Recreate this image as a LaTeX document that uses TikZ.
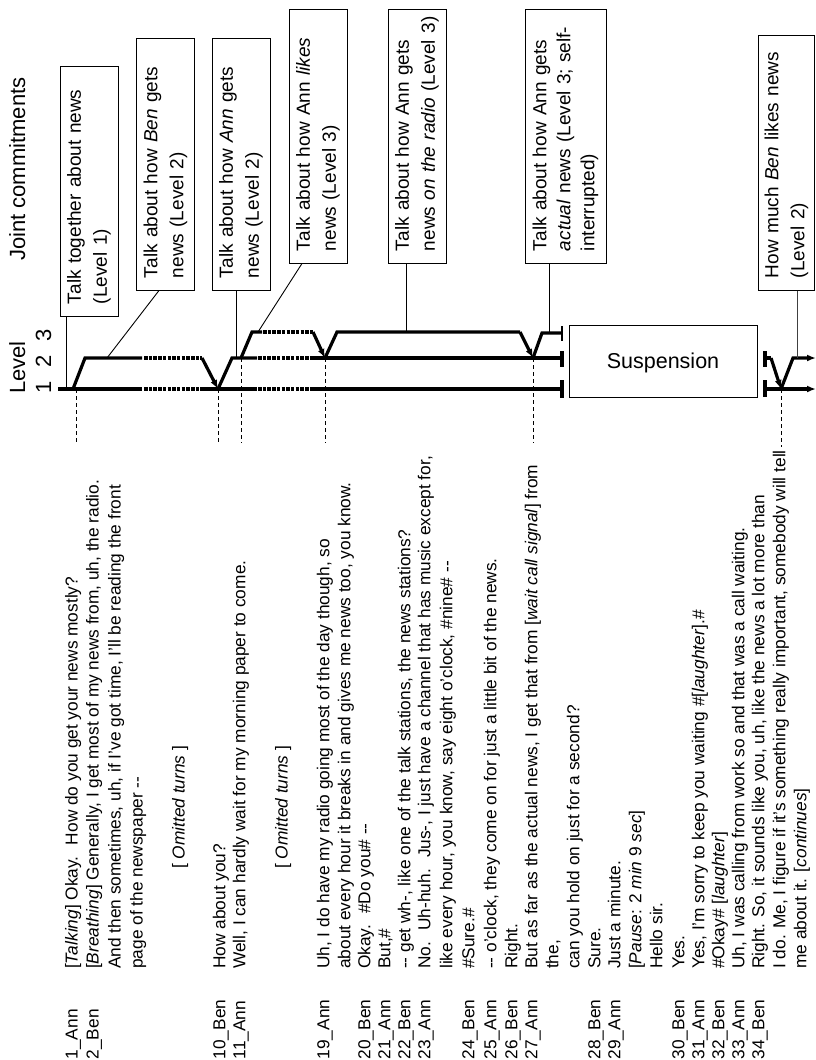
\documentclass[tikz,border=0pt]{standalone}
\usepackage{fontspec}
\setmainfont{Liberation Sans}
\usetikzlibrary{arrows.meta,calc}
\newcommand\trow[4]{%
  \node[tl] (#1s) at (#2,1059.5) {#3};
  \node[tl] (#1t) at (#2,969) {#4};}
\newcommand\tcont[3]{%
  \node[tl] (#1) at (#2,969) {#3};}
\begin{document}
\begin{tikzpicture}[x=1pt,y=-1pt,
  lvl/.style={line width=3.2pt},
  lvlthick/.style={line width=3.8pt},
  lvldot/.style={line width=3.2pt, dash pattern=on 3.5pt off 1.2pt},
  conn/.style={line width=0.9pt},
  guide/.style={line width=1pt, dash pattern=on 4pt off 3pt},
  tip/.style={-{Latex[length=9pt,width=7pt]}},
  cbox/.style={draw, line width=1pt, rotate=90, inner xsep=12pt, inner ysep=0pt,
    align=left, minimum height=58pt, font=\fontsize{19}{26}\selectfont},
  tl/.style={rotate=90, anchor=base west, inner sep=0pt, font=\fontsize{17.3}{20}\selectfont},
  head/.style={rotate=90, anchor=base west, inner sep=0pt, font=\fontsize{22}{26}\selectfont}
]
\useasboundingbox (0,0) rectangle (816,1060);

% headings
\node[head] (jc) at (25,261) {Joint commitments};
\node[head] (lev) at (25,394) {Level};
\node[head, anchor=base] (d1) at (51,387) {1};
\node[head, anchor=base] (d2) at (51,361) {2};
\node[head, anchor=base] (d3) at (51,335) {3};

% commitment boxes
\node[cbox, minimum width=250pt, text width=226pt] (b1) at (89,191) {\mbox{Talk together about news}\\\mbox{(Level 1)}};
\node[cbox, minimum width=252pt, text width=228pt] (b2) at (165.5,164) {\mbox{Talk about how \textit{Ben} gets}\\\mbox{news (Level 2)}};
\node[cbox, minimum width=252pt, text width=228pt] (b3) at (241,164) {\mbox{Talk about how \textit{Ann} gets}\\\mbox{news (Level 2)}};
\node[cbox, minimum width=254pt, text width=230pt] (b4) at (318,136) {\mbox{Talk about how Ann \textit{likes}}\\\mbox{news (Level 3)}};
\node[cbox, minimum width=254pt, text width=230pt] (b5) at (417,136) {\mbox{Talk about how Ann gets}\\\mbox{news \textit{on the radio} (Level 3)}};
\node[cbox, minimum width=254pt, text width=230pt, minimum height=81pt, font=\fontsize{19}{24}\selectfont] (b6) at (565.5,136) {\mbox{Talk about how Ann gets}\\\mbox{\textit{actual} news (Level 3; self-}\\\mbox{interrupted)}};
\node[cbox, minimum width=255pt, text width=231pt, minimum height=56pt] (b7) at (786.5,162.5) {\mbox{How much \textit{Ben} likes news}\\\mbox{(Level 2)}};

\node[draw, line width=1pt, minimum width=188pt, minimum height=72pt, text depth=0pt,
  font=\fontsize{21.5}{25}\selectfont] (susp) at (663,361) {Suspension};

% level 1
\draw[lvl] (58,389) -- (142,389);
\draw[lvldot] (144,389) -- (202,389);
\draw[lvl] (202,389) -- (257,389);
\draw[lvldot] (258,389) -- (313,389);
\draw[lvlthick] (313,389) -- (560,389);
% level 2
\draw[lvl] (73,389) -- (85,358) -- (142,358);
\draw[lvldot] (144,358) -- (202,358);
\draw[lvl,tip] (202,358) -- (218,389);
\draw[lvl] (218,389) -- (232,358) -- (257,358);
\draw[lvldot] (258,358) -- (313,358);
\draw[lvl] (313,358) -- (560,358);
% level 3
\draw[lvl] (241,358) -- (252,332) -- (262,332);
\draw[lvldot] (263,332) -- (313,332);
\draw[lvl,tip] (313,332) -- (325,358);
\draw[lvl] (325,358) -- (337,332) -- (520,332);
\draw[lvl,tip] (520,332) -- (533,358);
\draw[lvl] (533,358) -- (542,333) -- (561,333);
% end bars
\draw[line width=1.5pt] (562,326) -- (562,341);
\draw[line width=4pt] (562,351) -- (562,367);
\draw[line width=4pt] (562,380) -- (562,398);
% after suspension
\draw[line width=4pt] (765,351) -- (765,367);
\draw[line width=4pt] (765,380) -- (765,397);
\draw[lvl] (765,358) -- (771,358);
\draw[lvl,tip] (771,358) -- (781,389);
\draw[lvl,tip] (781,389) -- (793,358) -- (816,358);
\draw[lvlthick,tip] (765,389) -- (816,389);

% connector anchor points on the level lines
\coordinate (c1) at (66,389);
\coordinate (c2) at (107,358);
\coordinate (c3) at (236,358);
\coordinate (c4) at (258,332);
\coordinate (c5) at (406,332);
\coordinate (c6) at (549,333);
\coordinate (c7) at (797,358);
\draw[conn] (b1.west -| c1) -- (c1);
\draw[conn] ($(b2.west)+(-6.5,0)$) -- (c2);
\draw[conn] (b3.west -| c3) -- (c3);
\draw[conn] ($(b4.west)+(-16,0)$) -- (c4);
\draw[conn] (b5.west -| c5) -- (c5);
\draw[conn] (b6.west -| c6) -- (c6);
\draw[conn, black!75] (b7.west -| c7) -- (c7);

% guides
\coordinate (g1a) at (76,389);  \coordinate (g1b) at (76,443);
\coordinate (g2a) at (218,389); \coordinate (g2b) at (218,443);
\coordinate (g3a) at (241,358); \coordinate (g3b) at (241,443);
\coordinate (g4a) at (325,358); \coordinate (g4b) at (325,443);
\coordinate (g5a) at (533,358); \coordinate (g5b) at (533,443);
\coordinate (g6a) at (781,389); \coordinate (g6b) at (781,447);
\foreach \g in {1,...,6} {\draw[guide] (g\g a) -- (g\g b);}

% transcript
\trow{r1}{77.5}{1\_Ann}{[\textit{Talking}] Okay.~ How do you get your news mostly?}
\trow{r2}{98.5}{2\_Ben}{[\textit{Breathing}] Generally, I get most of my news from, uh, the radio.}
\tcont{r2b}{120.5}{And then sometimes, uh, if I've got time, I'll be reading the front}
\tcont{r2c}{142.5}{page of the newspaper -{}-}
\node[tl] (om1) at (184.6,869) {[ \textit{Omitted turns} ]};
\trow{r10}{225.4}{10\_Ben}{How about you?}
\trow{r11}{245.4}{11\_Ann}{Well, I can hardly wait for my morning paper to come.}
\node[tl] (om2) at (287.6,869) {[ \textit{Omitted turns} ]};
\trow{r19}{329.4}{19\_Ann}{Uh, I do have my radio going most of the day though, so}
\tcont{r19b}{350.4}{about every hour it breaks in and gives me news too, you know.}
\trow{r20}{370.4}{20\_Ben}{Okay.~ \#Do you\# -{}-}
\trow{r21}{390.4}{21\_Ann}{But,\#}
\trow{r22}{410.4}{22\_Ben}{-{}- get wh-, like one of the talk stations, the news stations?}
\trow{r23}{430.4}{23\_Ann}{No.~ Uh-huh.~ Jus-, I just have a channel that has music except for,}
\tcont{r23b}{452.4}{like every hour, you know, say eight o'clock, \#nine\# -{}-}
\trow{r24}{474.4}{24\_Ben}{\#Sure.\#}
\trow{r25}{496.4}{25\_Ann}{-{}- o'clock, they come on for just a little bit of the news.}
\trow{r26}{517.4}{26\_Ben}{Right.}
\trow{r27}{537.4}{27\_Ann}{But as far as the actual news, I get that from [\textit{wait call signal}] from}
\tcont{r27b}{558.4}{the,}
\tcont{r27c}{579.4}{can you hold on just for a second?}
\trow{r28}{600.4}{28\_Ben}{Sure.}
\trow{r29}{620.4}{29\_Ann}{Just a minute.}
\tcont{r29b}{641.4}{[\textit{Pause}: 2 \textit{min} 9 \textit{sec}]}
\tcont{r29c}{662.4}{Hello sir.}
\trow{r30}{684.4}{30\_Ben}{Yes.}
\trow{r31}{704.4}{31\_Ann}{Yes, I'm sorry to keep you waiting \#[\textit{laughter}].\#}
\trow{r32}{724.4}{32\_Ben}{\#Okay\# [\textit{laughter}]}
\trow{r33}{744.4}{33\_Ann}{Uh, I was calling from work so and that was a call waiting.}
\trow{r34}{764.4}{34\_Ben}{Right. So, it sounds like you, uh, like the news a lot more than}
\tcont{r34b}{785.4}{I do. Me, I figure if it's something really important, somebody will tell}
\tcont{r34c}{806.4}{me about it. [\textit{continues}]}
\end{tikzpicture}
\end{document}
